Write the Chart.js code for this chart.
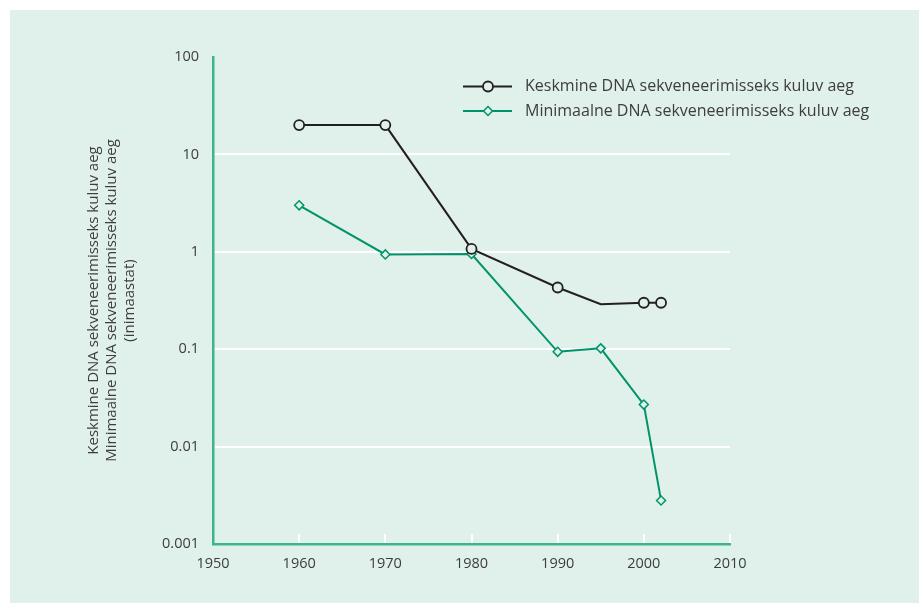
<!DOCTYPE html>
<html>
<head>
<meta charset="utf-8">
<script src="https://cdn.jsdelivr.net/npm/chart.js@4/dist/chart.umd.min.js"></script>
<style>
  html, body { margin: 0; padding: 0; background: #ffffff; }
  #panel { position: absolute; left: 10px; top: 10px; width: 909px; height: 593px; background: rgb(224,240,234); }
  #c { position: absolute; left: 0; top: 0; }
</style>
</head>
<body>
<div id="panel"></div>
<canvas id="c" width="919" height="603"></canvas>
<script>
// ---- data ----
const years = [1960, 1970, 1980, 1990, 1995, 2000, 2002];
const keskmine = [20, 20, 1.07, 0.43, 0.29, 0.30, 0.30];
const minimaalne = [3, 0.94, 0.95, 0.094, 0.102, 0.027, 0.0028];
const keskminePointRadius = [5, 5, 5, 5, 0, 5, 5];
const seriesNames = ['Keskmine DNA sekveneerimisseks kuluv aeg', 'Minimaalne DNA sekveneerimisseks kuluv aeg'];
const xTickValues = [1950, 1960, 1970, 1980, 1990, 2000, 2010];
const yTickValues = [0.001, 0.01, 0.1, 1, 10, 100];
const yTickLabels = ['0.001', '0.01', '0.1', '1', '10', '100'];
const yTitle = ['Keskmine DNA sekveneerimisseks kuluv aeg', 'Minimaalne DNA sekveneerimisseks kuluv aeg', '(inimaastat)'];

const BG = 'rgb(224,240,234)';
const BLACK = '#231f20';
const GREEN = '#00936a';
const AXIS = '#3cb48c';
const TEXT = '#3d3d3d';
const FONT = "'Open Sans', 'Noto Sans', sans-serif";

const toXY = (vals) => vals.map((v, i) => ({x: years[i], y: v}));

const legendPlugin = {
  id: 'customLegend',
  afterDraw(chart) {
    const ctx = chart.ctx;
    const rows = [86.5, 111];
    chart.data.datasets.forEach((ds, i) => {
      const y = rows[i];
      ctx.save();
      ctx.strokeStyle = ds.borderColor;
      ctx.lineWidth = ds.borderWidth;
      ctx.beginPath();
      ctx.moveTo(463, y);
      ctx.lineTo(512, y);
      ctx.stroke();
      ctx.fillStyle = BG;
      ctx.strokeStyle = ds.borderColor;
      ctx.lineWidth = ds.pointBorderWidth;
      ctx.beginPath();
      if (ds.pointStyle === 'circle') {
        ctx.arc(488, y, 5, 0, Math.PI * 2);
      } else {
        ctx.moveTo(488, y - 4.5); ctx.lineTo(492.5, y); ctx.lineTo(488, y + 4.5); ctx.lineTo(483.5, y); ctx.closePath();
      }
      ctx.fill();
      ctx.stroke();
      ctx.fillStyle = TEXT;
      ctx.font = "16px " + FONT;
      ctx.textBaseline = 'middle';
      ctx.textAlign = 'left';
      ctx.fillText(ds.label, 525, y);
      ctx.restore();
    });
  }
};

new Chart(document.getElementById('c'), {
  type: 'line',
  data: {
    datasets: [
      {
        label: seriesNames[0],
        data: toXY(keskmine),
        borderColor: BLACK,
        borderWidth: 2,
        pointStyle: 'circle',
        pointRadius: keskminePointRadius,
        pointBackgroundColor: BG,
        pointBorderColor: BLACK,
        pointBorderWidth: 1.8,
        tension: 0
      },
      {
        label: seriesNames[1],
        data: toXY(minimaalne),
        borderColor: GREEN,
        borderWidth: 2,
        pointStyle: 'rectRot',
        pointRadius: 4.5,
        pointBackgroundColor: BG,
        pointBorderColor: GREEN,
        pointBorderWidth: 1.5,
        tension: 0
      }
    ]
  },
  options: {
    responsive: false,
    animation: false,
    devicePixelRatio: 1,
    layout: { padding: { top: 57, right: 189, left: 0, bottom: 0 } },
    plugins: { legend: { display: false }, tooltip: { enabled: false } },
    scales: {
      x: {
        type: 'linear',
        min: 1950, max: 2010,
        afterBuildTicks(scale) {
          scale.ticks = xTickValues.map(v => ({value: v}));
        },
        afterFit(scale) { scale.height = 59; },
        ticks: {
          color: TEXT,
          font: { family: FONT, size: 14.5 },
          padding: 21,
          maxRotation: 0,
          callback: (v) => String(v)
        },
        grid: {
          drawOnChartArea: false,
          drawTicks: true,
          tickLength: -10,
          lineWidth: 2,
          color: (ctx) => (ctx.tick && ctx.tick.value === 1950) ? 'rgba(0,0,0,0)' : '#ffffff'
        },
        border: { display: true, color: AXIS, width: 2.5 }
      },
      y: {
        type: 'logarithmic',
        min: 0.001, max: 100,
        afterBuildTicks(scale) {
          scale.ticks = yTickValues.map(v => ({value: v}));
        },
        afterFit(scale) { scale.width = 213; },
        ticks: {
          color: TEXT,
          font: { family: FONT, size: 14.5 },
          padding: 14,
          callback: (v) => {
            const i = yTickValues.findIndex(t => Math.abs(Math.log10(t) - Math.log10(v)) < 1e-6);
            return i >= 0 ? yTickLabels[i] : '';
          }
        },
        grid: {
          drawTicks: false,
          lineWidth: 2,
          color: (ctx) => (ctx.tick && (ctx.tick.value >= 100 || ctx.tick.value <= 0.001)) ? 'rgba(0,0,0,0)' : '#ffffff'
        },
        border: { display: true, color: AXIS, width: 2.5 },
        title: {
          display: true,
          text: yTitle,
          color: TEXT,
          font: { family: FONT, size: 15, lineHeight: 1.2 },
          padding: { top: 85, bottom: 0 }
        }
      }
    }
  },
  plugins: [legendPlugin]
});
</script>
</body>
</html>
